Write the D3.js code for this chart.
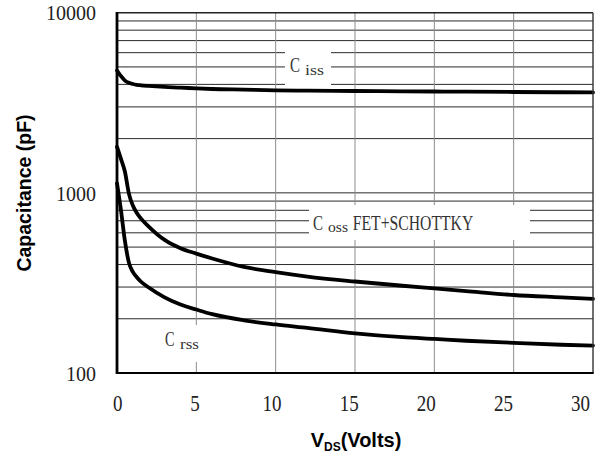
<!DOCTYPE html>
<html><head><meta charset="utf-8">
<script src="https://cdn.jsdelivr.net/npm/d3@7"></script>
<style>
html,body{margin:0;padding:0;background:#fff;}
svg{display:block;}
</style></head>
<body>
<svg id="chart" width="596" height="459"></svg>
<script>
// ---- data ----
const vds  = [0, 0.25, 0.5, 0.75, 1, 1.25, 1.5, 2, 3, 4, 5, 6, 8, 10, 12, 15, 18, 20, 22, 25, 28, 30];
const ciss = [4780, 4450, 4200, 4080, 4020, 3980, 3955, 3920, 3870, 3840, 3800, 3770, 3740, 3710, 3690, 3675, 3662, 3652, 3642, 3630, 3617, 3610];
const coss = [1800, 1545, 1310, 990, 850, 772, 722, 650, 548, 493, 460, 432, 388, 363, 343, 322, 305, 295, 285, 271, 263, 258];
const crss = [1130, 800, 540, 410, 364, 340, 322, 298, 263, 240, 225, 212, 196, 186, 178, 166, 158, 154.5, 151, 147, 143.5, 142];
const xTickValues = [0, 5, 10, 15, 20, 25, 30];
const yTickValues = [100, 1000, 10000];
const seriesNames = ["iss", "oss", "rss"];

const svg = d3.select("#chart");
const L = 117, R = 593, T = 12.7, B = 373;
const x = d3.scaleLinear().domain([0, 30]).range([L, R]);
const xLab = d3.scaleLinear().domain([0, 30]).range([117.3, 580]);
const y = d3.scaleLog().domain([100, 10000]).range([B, T]);

// gridlines
const minor = y.ticks().filter(v => v > 100 && v < 10000);
svg.append("g").selectAll("line").data(minor).join("line")
  .attr("x1", L).attr("x2", R).attr("y1", d => y(d)).attr("y2", d => y(d))
  .attr("stroke", "#2a2a2a").attr("stroke-width", 1);
svg.append("g").selectAll("line").data(xTickValues.slice(1, -1)).join("line")
  .attr("x1", d => x(d)).attr("x2", d => x(d)).attr("y1", T).attr("y2", B)
  .attr("stroke", "#8c8c8c").attr("stroke-width", 1);

// curves
const line = d3.line().x(d => x(d[0])).y(d => y(d[1])).curve(d3.curveMonotoneX);
[ciss, coss, crss].forEach(arr => {
  svg.append("path").datum(vds.map((v, i) => [v, arr[i]]))
    .attr("d", line).attr("fill", "none").attr("stroke", "#000")
    .attr("stroke-width", 3.8).attr("stroke-linejoin", "round").attr("stroke-linecap", "round");
});

// label boxes
const boxes = [[285, 47, 46, 40], [309, 205, 221, 35], [159, 325, 52, 37]];
svg.append("g").selectAll("rect").data(boxes).join("rect")
  .attr("x", d => d[0]).attr("y", d => d[1]).attr("width", d => d[2]).attr("height", d => d[3])
  .attr("fill", "#fff");

function txt(xp, yp, s, size, len, fill) {
  svg.append("text").attr("x", xp).attr("y", yp)
    .attr("font-family", "'Liberation Serif', serif").attr("font-size", size)
    .attr("fill", fill || "#333")
    .attr("textLength", len).attr("lengthAdjust", "spacingAndGlyphs").text(s);
}
// C iss
txt(290, 72, "C", 22, 10);
txt(305, 75, seriesNames[0], 14, 19);
// C oss FET+SCHOTTKY
txt(313, 230, "C", 22, 10);
txt(328, 232, seriesNames[1], 14, 20);
txt(352.7, 230, "FET+SCHOTTKY", 22, 120.6);
// C rss
txt(165, 346, "C", 22, 9.5);
txt(180, 349, seriesNames[2], 14, 19);

// frame
svg.append("line").attr("x1", L).attr("x2", R).attr("y1", T).attr("y2", T).attr("stroke", "#222").attr("stroke-width", 1.6);
svg.append("line").attr("x1", R).attr("x2", R).attr("y1", T).attr("y2", B).attr("stroke", "#333").attr("stroke-width", 1.4);
svg.append("line").attr("x1", L - 1).attr("x2", R + 0.7).attr("y1", B).attr("y2", B).attr("stroke", "#000").attr("stroke-width", 2.2);
svg.append("line").attr("x1", L).attr("x2", L).attr("y1", T - 0.8).attr("y2", B + 1).attr("stroke", "#000").attr("stroke-width", 2.8);

// y tick labels
const yAxis = d3.axisLeft(y).tickValues(yTickValues).tickSize(0).tickPadding(0).tickFormat(d3.format("d"));
const gy = svg.append("g").attr("transform", "translate(96,0)").call(yAxis);
gy.select(".domain").remove();
gy.selectAll("text").attr("font-family", "'Liberation Serif', serif").attr("font-size", 20)
  .attr("fill", "#222").attr("dy", "0.36em").attr("x", 0);

// x tick labels
const xAxis = d3.axisBottom(xLab).tickValues(xTickValues).tickSize(0).tickPadding(0).tickFormat(d3.format("d"));
const gx = svg.append("g").call(xAxis);
gx.select(".domain").remove();
gx.selectAll(".tick text").attr("font-family", "'Liberation Serif', serif").attr("font-size", 19)
  .attr("fill", "#222").attr("y", 0).attr("dy", 0)
  .attr("transform", "translate(0,411) scale(1,1.25)");

// axis titles
const xt = svg.append("text").attr("x", 356).attr("y", 447).attr("text-anchor", "middle")
  .attr("font-family", "'Liberation Sans', Arial, sans-serif").attr("font-weight", "bold").attr("font-size", 20).attr("fill", "#000");
xt.append("tspan").text("V");
xt.append("tspan").attr("font-size", 12).attr("dy", 4).text("DS");
xt.append("tspan").attr("dy", -4).text("(Volts)");

svg.append("text").attr("transform", "translate(31,193) rotate(-90)").attr("text-anchor", "middle")
  .attr("font-family", "'Liberation Sans', Arial, sans-serif").attr("font-weight", "bold").attr("font-size", 19.5).attr("fill", "#000")
  .text("Capacitance (pF)");
</script>
</body></html>
